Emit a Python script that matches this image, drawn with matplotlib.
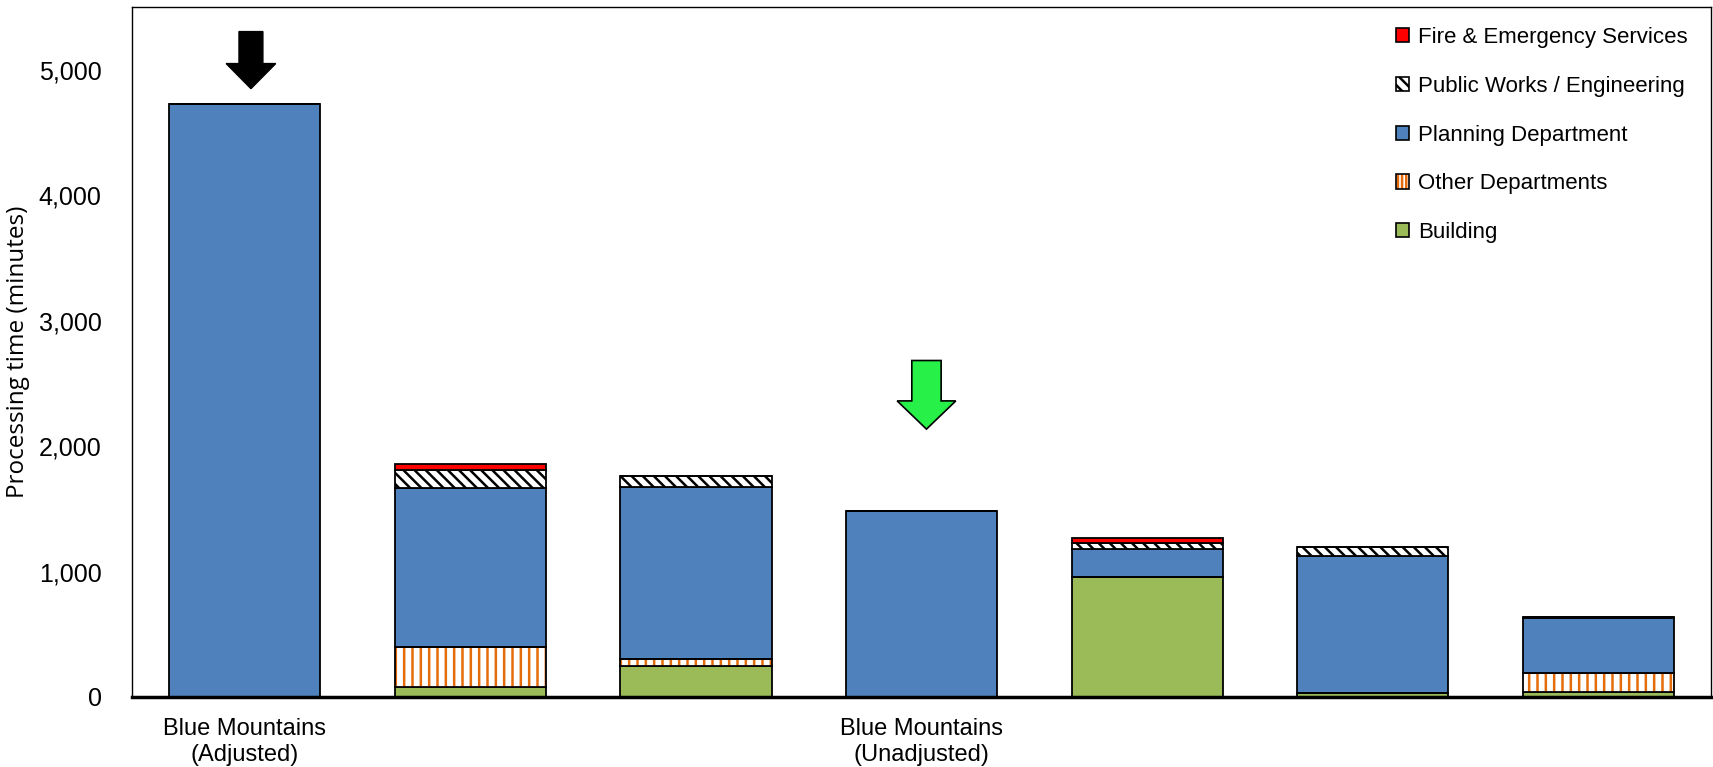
import matplotlib
matplotlib.use("Agg")
import matplotlib.pyplot as plt
import numpy as np
from matplotlib.patches import Patch, FancyArrow
from matplotlib.ticker import FuncFormatter
from matplotlib.legend_handler import HandlerTuple

plt.rcParams['font.family'] = ['Liberation Sans', 'DejaVu Sans']
plt.rcParams['hatch.linewidth'] = 1.8

# ---- data ----
x_labels = ['Blue Mountains\n(Adjusted)', '', '', 'Blue Mountains\n(Unadjusted)', '', '', '']
building = [0, 82, 247, 0, 959, 28, 37]
other = [0, 319, 54, 0, 0, 0, 157]
planning = [4729, 1263, 1376, 1483, 221, 1099, 433]
public_works = [0, 146, 85, 0, 46, 72, 13]
fire = [0, 46, 0, 0, 39, 0, 0]
series_names = ['Building', 'Other Departments', 'Planning Department',
                'Public Works / Engineering', 'Fire & Emergency Services']
yticks = [0, 1000, 2000, 3000, 4000, 5000]

BLUE = '#4F81BD'
GREEN = '#9BBB59'
RED = '#FF0000'
ORANGE = '#E46C0A'
ARROW_GREEN = '#27F049'

fig = plt.figure(figsize=(17.13, 7.67), dpi=100)
ax = fig.add_axes([0.0771, 0.0913, 0.9217, 0.8996])

x = np.arange(len(x_labels))
w = 0.67
bottom = np.zeros(len(x))
edge_lw = 1.3

# Building
ax.bar(x, building, w, bottom=bottom, color=GREEN, edgecolor='black', linewidth=edge_lw, zorder=2)
bottom += np.array(building)
# Other departments: white with orange vertical hatch
ax.bar(x, other, w, bottom=bottom, color='white', edgecolor=ORANGE, hatch='||', linewidth=0, zorder=2)
ax.bar(x, other, w, bottom=bottom, fill=False, edgecolor='black', linewidth=edge_lw, zorder=3)
bottom += np.array(other)
# Planning
ax.bar(x, planning, w, bottom=bottom, color=BLUE, edgecolor='black', linewidth=edge_lw, zorder=2)
bottom += np.array(planning)
# Public works: white with black diagonal hatch
ax.bar(x, public_works, w, bottom=bottom, color='white', edgecolor='black', hatch='\\\\\\', linewidth=edge_lw, zorder=2)
bottom += np.array(public_works)
# Fire
ax.bar(x, fire, w, bottom=bottom, color=RED, edgecolor='black', linewidth=edge_lw, zorder=2)
bottom += np.array(fire)
totals = bottom

# Arrows
tip0 = totals[0] + 120
ax.add_patch(FancyArrow(0 + 0.027, tip0 + 455, 0, -455, width=0.106, head_width=0.22,
                        head_length=200, length_includes_head=True,
                        facecolor='black', edgecolor='black', linewidth=1, zorder=4))
tip3 = totals[3] + 652
ax.add_patch(FancyArrow(3 + 0.022, tip3 + 547, 0, -547, width=0.13, head_width=0.26,
                        head_length=225, length_includes_head=True,
                        facecolor=ARROW_GREEN, edgecolor='black', linewidth=1.2, zorder=4))

ax.set_xlim(-0.5, len(x) - 0.5)
ax.set_ylim(0, 5500)
ax.set_yticks(yticks)
ax.yaxis.set_major_formatter(FuncFormatter(lambda v, p: f'{int(v):,}'))
ax.set_xticks(x)
ax.set_xticklabels(x_labels, fontsize=17, linespacing=1.22)
ax.tick_params(axis='y', length=0, pad=22, labelsize=18)
ax.tick_params(axis='x', length=0, pad=15)
ax.set_ylabel('Processing time (minutes)', fontsize=17.5, labelpad=6,
              family=['Open Sans', 'DejaVu Sans'])

for s in ['top', 'left', 'right']:
    ax.spines[s].set_linewidth(1.0)
ax.spines['bottom'].set_linewidth(2.5)
ax.spines['bottom'].set_zorder(5)

# Legend
h_fire = Patch(facecolor=RED, edgecolor='black', linewidth=1.2)
h_pw = Patch(facecolor='white', edgecolor='black', hatch='\\\\\\', linewidth=1.2)
h_plan = Patch(facecolor=BLUE, edgecolor='black', linewidth=1.2)
h_other = (Patch(facecolor='white', edgecolor=ORANGE, hatch='||||', linewidth=0),
           Patch(fill=False, edgecolor='black', linewidth=1.2))
h_build = Patch(facecolor=GREEN, edgecolor='black', linewidth=1.2)
handles = [h_fire, h_pw, h_plan, h_other, h_build]
labels = series_names[::-1]
ax.legend(handles, labels, loc='upper right', frameon=False, fontsize=16.0,
          handlelength=0.6, handleheight=0.6, handletextpad=0.4,
          labelspacing=1.25, bbox_to_anchor=(0.998, 1.0),
          handler_map={tuple: HandlerTuple(ndivide=1, pad=0)})

fig.savefig('out.png', dpi=100)
